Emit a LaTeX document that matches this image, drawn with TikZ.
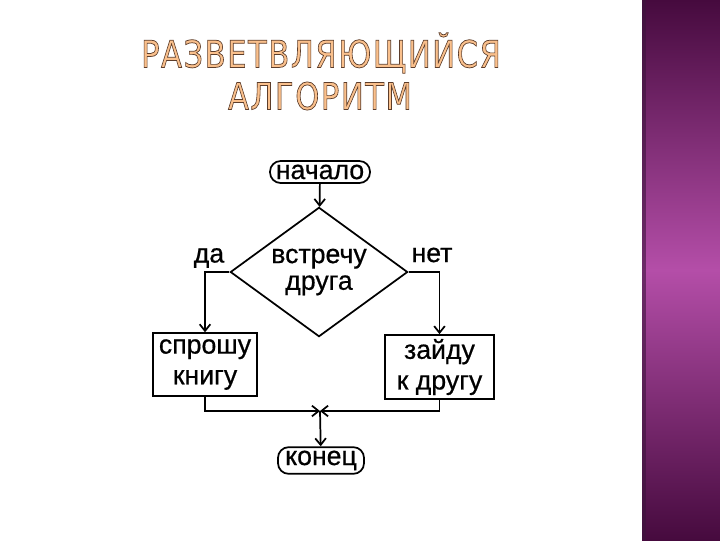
\documentclass[tikz,border=0pt]{standalone}
\usepackage{fontspec}
\usepackage{graphicx}
\setmainfont{Liberation Sans}
\newfontfamily\ttlfont[LetterSpace=5]{DejaVu Sans}
\newfontfamily\flowfont[FakeBold=0.6]{Liberation Sans}
\usepackage{tikz}
\usetikzlibrary{arrows.meta,shapes.geometric}
\definecolor{bandtop}{RGB}{70,10,62}
\definecolor{bandmid}{RGB}{180,78,168}
\definecolor{bandedge}{RGB}{60,20,60}
\definecolor{ttlfill}{RGB}{250,192,140}
% outlined letters: fill, then stroke in dark brown
\newcommand{\outl}[1]{\special{pdf:literal direct 2 Tr 0.55 w 0.36 0.24 0.17 RG}#1\special{pdf:literal direct 0 Tr}}
\tikzset{
  ttl/.style={inner sep=0pt,text=ttlfill,font=\ttlfont\fontsize{28}{30}\selectfont},
  term/.style={draw,rounded corners=8pt,line width=1.3pt,inner sep=1pt,font=\flowfont\fontsize{20}{23}\selectfont},
  blk/.style={draw,line width=1.3pt,align=center,inner sep=1pt,font=\flowfont\fontsize{20}{23}\selectfont},
  dec/.style={draw,diamond,aspect=1.36,line width=1.3pt,inner sep=0pt,align=center,minimum width=133pt,minimum height=97pt,font=\flowfont\fontsize{20}{20}\selectfont},
  arr/.style={-{Straight Barb[length=5pt,width=8pt]},line width=1.3pt},
  lbl/.style={inner sep=0pt,font=\flowfont\fontsize{20}{23}\selectfont},
}
\begin{document}
\begin{tikzpicture}[x=0.75pt,y=-0.75pt]
 \useasboundingbox (0,0) rectangle (720,540);
 \fill[white] (0,0) rectangle (720,540);
 % purple band on the right
 \shade[top color=bandtop,bottom color=bandtop,middle color=bandmid] (642,0) rectangle (720,540);
 \fill[bandedge,opacity=0.6] (642,0) rectangle (646,540);
 % title
 \node[ttl] (hA) at (321,53) {\scalebox{0.82}[1]{\outl{РАЗВЕТВЛЯЮЩИЙСЯ}}};
 \node[ttl] (hB) at (320,96) {\scalebox{0.82}[1]{\outl{АЛГОРИТМ}}};
 % flowchart
 \node[term,minimum width=75pt,minimum height=16.5pt] (start) at (320,172) {начало};
 \node[dec] (meet) at (319,272) {встречу\\друга};
 \node[blk,minimum width=78pt,minimum height=47pt] (ask) at (205,364.5) {спрошу\\книгу};
 \node[blk,minimum width=82pt,minimum height=48pt] (visit) at (439.5,367) {зайду\\к другу};
 \node[term,minimum width=64.5pt,minimum height=20pt] (stop) at (321,460.5) {конец};
 \node[lbl] (yes) at (209,258) {да};
 \node[lbl] (no) at (432,255) {нет};
 \coordinate (join) at (320,411);
 \draw[arr](start)--(meet);
 \draw[arr](meet.west)-|(ask.north);
 \draw[arr](meet.east)-|(visit.north);
 \draw[arr](ask.south)|-(join);
 \draw[arr](visit.south)|-(join);
 \draw[arr](join)--(stop);
\end{tikzpicture}
\end{document}
